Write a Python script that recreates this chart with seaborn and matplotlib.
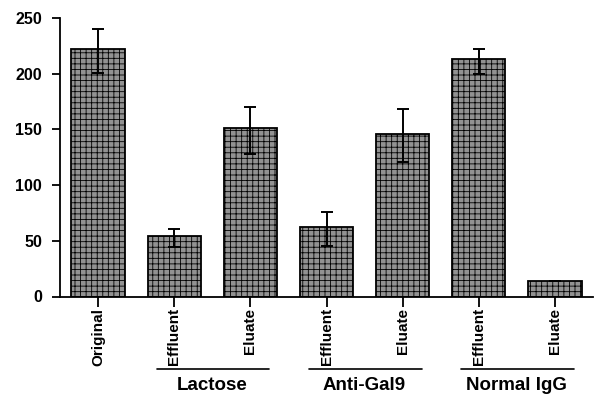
import matplotlib
matplotlib.use("Agg")
import matplotlib.pyplot as plt
import seaborn as sns
import pandas as pd
import numpy as np

categories = ["Original", "Effluent", "Eluate", "Effluent", "Eluate", "Effluent", "Eluate"]
values = [222, 54, 151, 62, 146, 213, 14]
err_low = [21, 10, 23, 17, 25, 13, 0]
err_high = [18, 7, 19, 14, 22, 9, 0]
groups = ["Lactose", "Anti-Gal9", "Normal IgG"]
group_first = [1, 3, 5]
y_ticks = [0, 50, 100, 150, 200, 250]

sns.set_theme(style="white")
plt.rcParams["font.family"] = ["Liberation Sans", "DejaVu Sans"]
plt.rcParams["hatch.linewidth"] = 0.6
plt.rcParams["text.color"] = "black"
plt.rcParams["xtick.color"] = "black"
plt.rcParams["ytick.color"] = "black"
plt.rcParams["xtick.labelcolor"] = "black"
plt.rcParams["ytick.labelcolor"] = "black"

df = pd.DataFrame({"pos": [str(i) for i in range(len(values))], "value": values})

fig = plt.figure(figsize=(5.95, 3.96), dpi=100)
ax = fig.add_axes([60 / 595, 99.5 / 396, 533 / 595, 278.5 / 396])

sns.barplot(data=df, x="pos", y="value", color="#929292", width=0.7,
            edgecolor="black", linewidth=1.3, saturation=1, ax=ax)
for p in ax.patches:
    p.set_hatch("+++")
    p.set_edgecolor("black")

x = np.arange(len(values))
ax.errorbar(x, values, yerr=[err_low, err_high], fmt="none", ecolor="black",
            elinewidth=1.4, capsize=4, capthick=1.4, zorder=5)

ax.set_xlim(-0.5, 6.5)
ax.set_ylim(0, 250)
ax.set_yticks(y_ticks)
ax.set_yticklabels([str(t) for t in y_ticks], fontweight="bold", fontsize=11.5, color="black")
ax.set_xticks(x)
ax.set_xticklabels(categories, rotation=90, fontweight="bold", fontsize=11, color="black")
ax.set_xlabel("")
ax.set_ylabel("")
ax.tick_params(axis="y", direction="out", length=6, width=1.3, pad=7, left=True, color="black")
ax.tick_params(axis="x", direction="out", length=7, width=1.3, pad=1, bottom=True, color="black")
for s in ["top", "right"]:
    ax.spines[s].set_visible(False)
for s in ["left", "bottom"]:
    ax.spines[s].set_linewidth(1.3)
    ax.spines[s].set_color("black")

trans = matplotlib.transforms.blended_transform_factory(ax.transData, fig.transFigure)
for name, i in zip(groups, group_first):
    ax.plot([i - 0.23, i + 1.25], [1 - 369 / 396] * 2, color="black", lw=1.2,
            transform=trans, clip_on=False)
    ax.text(i + 0.5, 1 - 386 / 396, name, transform=trans, ha="center", va="center",
            fontsize=13.5, fontweight="bold", color="black")

fig.savefig("out.png", dpi=100)
